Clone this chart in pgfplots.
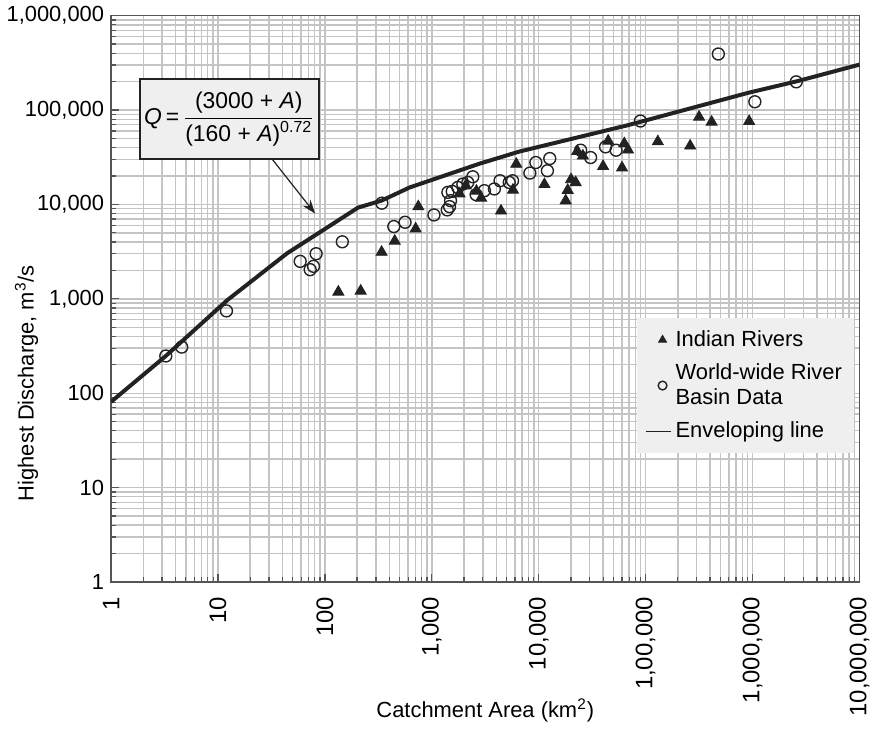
\documentclass[border=0pt]{standalone}
\usepackage{pgfplots}
\pgfplotsset{compat=1.18}
\usepackage{amsmath}
\usepackage{fontspec}
\setmainfont{Liberation Sans}
\usetikzlibrary{arrows.meta}

\definecolor{gridgray}{HTML}{C4C4C4}
\definecolor{axgray}{HTML}{555555}
\definecolor{boxgray}{HTML}{EFEFEF}
\definecolor{ink}{HTML}{222222}

\begin{document}
\begin{tikzpicture}
\begin{axis}[
  scale only axis,
  width=376pt, height=284.5pt,
  xmode=log, ymode=log,
  xmin=1, xmax=1e7,
  ymin=1, ymax=1e6,
  xtick={1,10,100,1000,10000,100000,1000000,10000000},
  xticklabels={{1},{10},{100},{1,000},{10,000},{1,00,000},{1,000,000},{10,000,000}},
  minor xtick={2,3,4,5,6,7,8,9,
    2e1,3e1,4e1,5e1,6e1,7e1,8e1,9e1,
    2e2,3e2,4e2,5e2,6e2,7e2,8e2,9e2,
    2e3,3e3,4e3,5e3,6e3,7e3,8e3,9e3,
    2e4,3e4,4e4,5e4,6e4,7e4,8e4,9e4,
    2e5,3e5,4e5,5e5,6e5,7e5,8e5,9e5,
    2e6,3e6,4e6,5e6,6e6,7e6,8e6,9e6},
  ytick={1,10,100,1000,10000,100000,1000000},
  yticklabels={{1},{10},{100},{1,000},{10,000},{100,000},{1,000,000}},
  minor ytick={2,3,4,5,6,7,8,9,
    2e1,3e1,4e1,5e1,6e1,7e1,8e1,9e1,
    2e2,3e2,4e2,5e2,6e2,7e2,8e2,9e2,
    2e3,3e3,4e3,5e3,6e3,7e3,8e3,9e3,
    2e4,3e4,4e4,5e4,6e4,7e4,8e4,9e4,
    2e5,3e5,4e5,5e5,6e5,7e5,8e5,9e5},
  xticklabel style={rotate=90, anchor=east, font=\fontsize{12}{14}\selectfont},
  xticklabel shift=4pt,
  yticklabel style={font=\fontsize{11}{13}\selectfont},
  grid=both,
  major grid style={gridgray, line width=0.7pt},
  minor grid style={gridgray, line width=0.7pt},
  axis line style={axgray, line width=0.8pt},
  tick align=inside,
  tick pos=left,
  major tick length=4pt,
  minor tick length=2.5pt,
  tick style={axgray, line width=0.6pt},
  xlabel={Catchment Area (km\textsuperscript{2})},
  ylabel={Highest Discharge, m\textsuperscript{3}/s},
  xlabel style={at={(axis description cs:0.5,-0.227)}, anchor=center, font=\fontsize{11}{13}\selectfont},
  ylabel style={at={(axis description cs:-0.113,0.351)}, anchor=center, font=\fontsize{11}{13}\selectfont},
  legend style={at={(0.993,0.466)}, anchor=north east, fill=boxgray, draw=none,
    font=\fontsize{11}{13}\selectfont, row sep=3pt, inner sep=4pt},
  legend cell align=left,
  legend style={cells={align=left}},
]

% Indian rivers
\addplot[only marks, mark=triangle*, mark size=3.2pt, color=ink, mark options={fill=ink},
  legend image post style={mark size=2.3pt}]
coordinates{
(133.6,1183) (216,1211) (339,3126) (450,4100) (706,5520) (748,9480)
(1815,13000) (2076,15790) (2613,13870) (2891,11710) (4436,8540)
(5741,14220) (6166,26740) (11300,16300) (17870,10960) (18660,14150)
(20050,18360) (22150,17100) (22930,36650) (25880,32720) (40000,25350)
(44570,47100) (60100,24440) (63100,44150) (68420,37840) (130000,46340)
(260700,41700) (316000,84400) (414000,74700) (929000,76000)
};
\addlegendentry{Indian Rivers}

% world-wide river basin data
\addplot[only marks, mark=o, mark size=3pt, color=ink, mark options={line width=0.7pt},
  legend image post style={mark size=2.2pt}]
coordinates{
(3.25,248) (4.58,308) (12.0,745) (58.7,2494) (72.8,2037) (78.2,2208)
(82.8,3006) (145.5,4018) (341,10320) (441,5834) (562,6475) (1047,7745)
(1394,8750) (1465,9480) (1496,10960) (1413,13430) (1552,13750)
(1750,15140) (1950,16450) (2170,17100) (2416,19640) (2597,12690)
(3103,13990) (3846,14590) (4345,17820) (5297,17100) (5690,17820)
(8260,21500) (9400,27800) (12050,22750) (12680,30640) (24660,37560)
(30550,31400) (42170,40740) (52900,37560) (89300,76500) (478600,392600)
(1050000,122400) (2560000,199000)
};
\addlegendentry{World-wide River\\Basin Data}

% enveloping line
\addplot[color=ink, line width=2pt,
  legend image code/.code={\draw[ink, line width=0.6pt] (0cm,0cm) -- (0.45cm,0cm);}]
coordinates{
(1,81) (3.25,248) (12.2,967) (44.2,3030) (204,9250) (340,11000)
(621,15140) (2786,27000) (6566,36300) (69500,69500) (910000,152300)
(2620000,202300) (10000000,303000)
};
\addlegendentry{Enveloping line}

\node[draw=ink, fill=boxgray, line width=0.8pt, minimum width=87pt, minimum height=40pt,
  inner sep=2pt, font=\fontsize{11.5}{13}\selectfont]
  at (axis cs:12.8,80400)
  {\textit{Q}\,=\,$\dfrac{\text{(3000 + \textit{A})}}{\text{(160 + \textit{A})\textsuperscript{0.72}}}$};
\draw[ink, line width=0.6pt, -{Stealth[length=7pt, width=5pt]}]
  (axis cs:32.1,30200) -- (axis cs:81,8000);

\end{axis}
\useasboundingbox ([xshift=-55pt,yshift=-76pt]current axis.south west)
  rectangle ([xshift=7pt,yshift=7pt]current axis.north east);
\end{tikzpicture}
\end{document}
